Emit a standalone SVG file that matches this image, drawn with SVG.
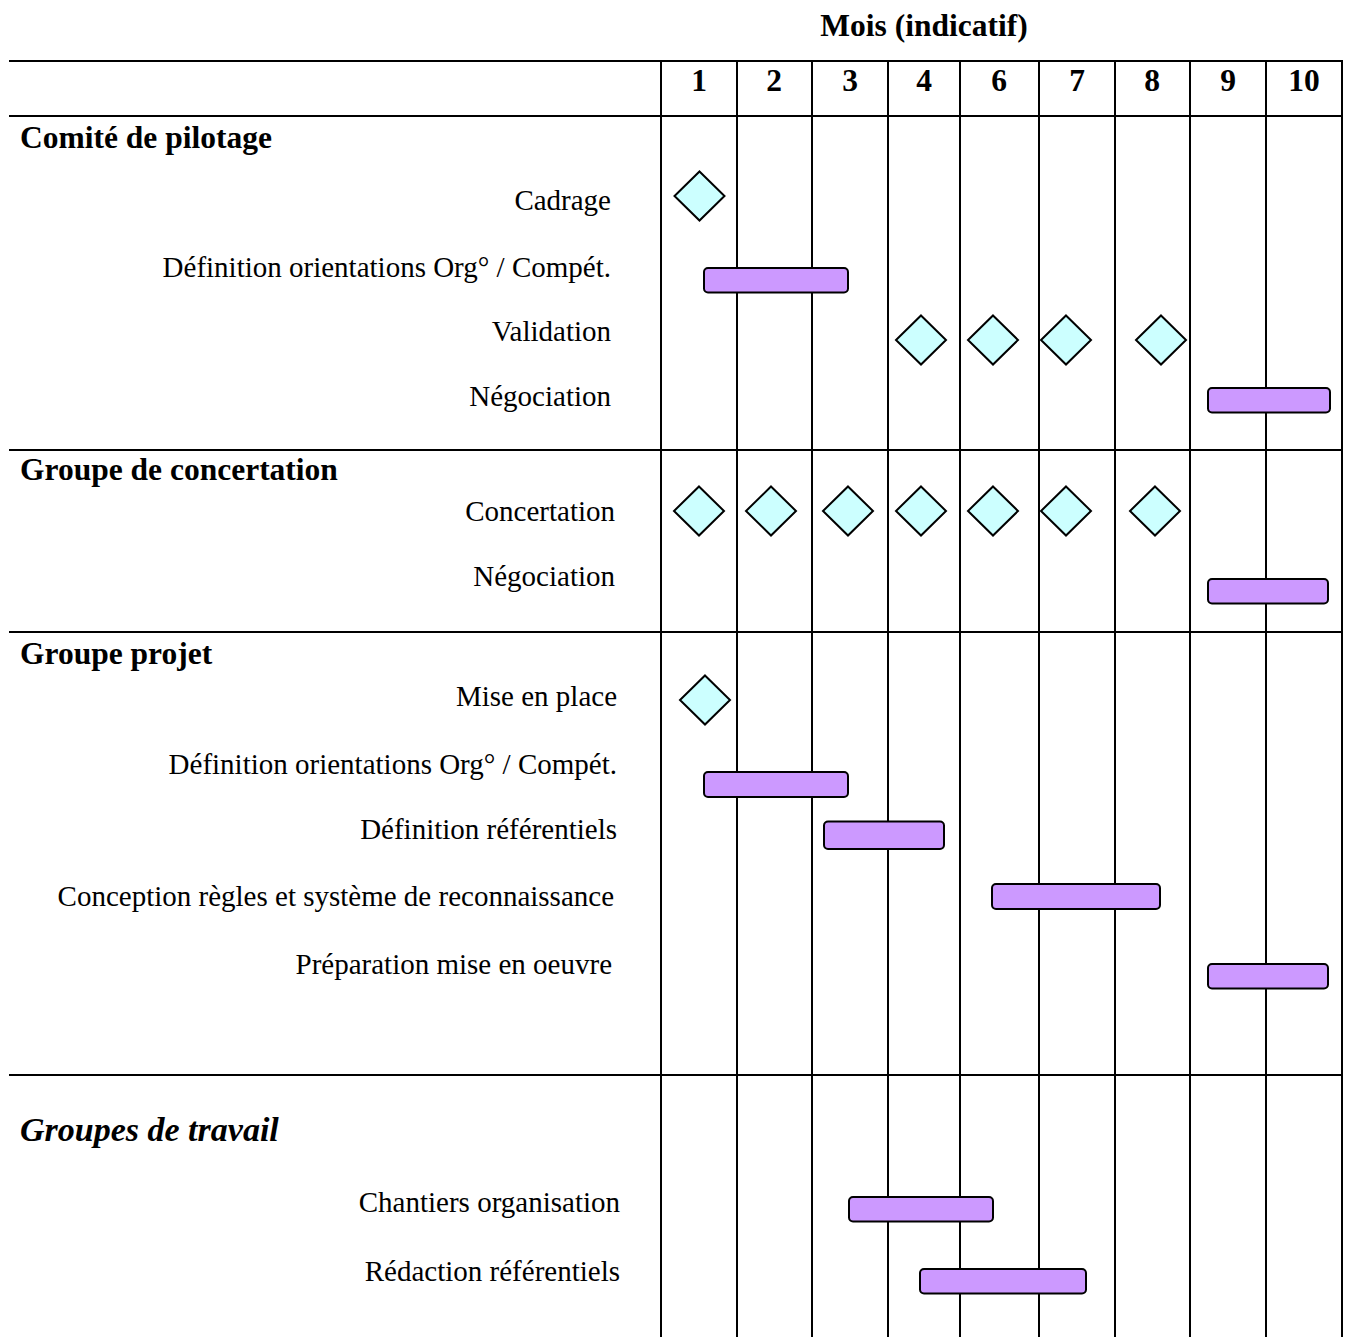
<svg xmlns="http://www.w3.org/2000/svg" width="1348" height="1337" viewBox="0 0 1348 1337">
<style>
.grid line{stroke:#000;stroke-width:2}
.t{font-family:"Liberation Serif","Times New Roman",serif;font-size:29px;fill:#000}
.r{text-anchor:end}
.h{font-family:"Liberation Serif","Times New Roman",serif;font-size:31.5px;font-weight:bold;fill:#000}
.c{text-anchor:middle}
.hi{font-family:"Liberation Serif","Times New Roman",serif;font-size:34px;font-weight:bold;font-style:italic;fill:#000}
.bar{fill:#CC99FF;stroke:#000;stroke-width:2}
.dia{fill:#CCFFFF;stroke:#000;stroke-width:2}
</style>
<defs>
<polygon id="d" class="dia" points="0,-24.5 25,0 0,24.5 -25,0"/>
</defs>
<rect width="1348" height="1337" fill="#fff"/>
<g id="grid" class="grid">
<line x1="9" y1="61" x2="1343" y2="61"/>
<line x1="9" y1="116" x2="1343" y2="116"/>
<line x1="9" y1="450" x2="1343" y2="450"/>
<line x1="9" y1="632" x2="1343" y2="632"/>
<line x1="9" y1="1075" x2="1343" y2="1075"/>
<line x1="661" y1="61" x2="661" y2="1337"/>
<line x1="737" y1="61" x2="737" y2="1337"/>
<line x1="812" y1="61" x2="812" y2="1337"/>
<line x1="888" y1="61" x2="888" y2="1337"/>
<line x1="960" y1="61" x2="960" y2="1337"/>
<line x1="1039" y1="61" x2="1039" y2="1337"/>
<line x1="1115" y1="61" x2="1115" y2="1337"/>
<line x1="1190" y1="61" x2="1190" y2="1337"/>
<line x1="1266" y1="61" x2="1266" y2="1337"/>
<line x1="1342" y1="61" x2="1342" y2="1337"/>
</g>
<g id="header">
<text class="h c" x="924" y="36">Mois (indicatif)</text>
<text class="h c" x="699" y="91">1</text>
<text class="h c" x="774" y="91">2</text>
<text class="h c" x="850" y="91">3</text>
<text class="h c" x="924" y="91">4</text>
<text class="h c" x="999" y="91">6</text>
<text class="h c" x="1077" y="91">7</text>
<text class="h c" x="1152" y="91">8</text>
<text class="h c" x="1228" y="91">9</text>
<text class="h c" x="1304" y="91">10</text>
</g>
<g id="sec-comite">
<text class="h" x="20" y="148">Comité de pilotage</text>
</g>
<g id="cadrage">
<text class="t r" x="611" y="210">Cadrage</text>
<use href="#d" x="699.5" y="196"/>
</g>
<g id="definition1">
<text class="t r" x="611" y="277">Définition orientations Org° / Compét.</text>
<rect class="bar" x="704" y="268" width="144" height="24.5" rx="4"/>
</g>
<g id="validation">
<text class="t r" x="611" y="341">Validation</text>
<use href="#d" x="921" y="340"/>
<use href="#d" x="993" y="340"/>
<use href="#d" x="1066" y="340"/>
<use href="#d" x="1161" y="340"/>
</g>
<g id="negociation1">
<text class="t r" x="611" y="406">Négociation</text>
<rect class="bar" x="1208" y="388" width="122" height="24.5" rx="4"/>
</g>
<g id="sec-concertation">
<text class="h" x="20" y="480">Groupe de concertation</text>
</g>
<g id="concertation">
<text class="t r" x="615" y="521">Concertation</text>
<use href="#d" x="699" y="511"/>
<use href="#d" x="771" y="511"/>
<use href="#d" x="848" y="511"/>
<use href="#d" x="921" y="511"/>
<use href="#d" x="993" y="511"/>
<use href="#d" x="1066" y="511"/>
<use href="#d" x="1155" y="511"/>
</g>
<g id="negociation2">
<text class="t r" x="615" y="586">Négociation</text>
<rect class="bar" x="1208" y="579" width="120" height="24.5" rx="4"/>
</g>
<g id="sec-projet">
<text class="h" x="20" y="664">Groupe projet</text>
</g>
<g id="mise-en-place">
<text class="t r" x="617" y="706">Mise en place</text>
<use href="#d" x="705" y="700"/>
</g>
<g id="definition2">
<text class="t r" x="617" y="774">Définition orientations Org° / Compét.</text>
<rect class="bar" x="704" y="772" width="144" height="25" rx="4"/>
</g>
<g id="def-referentiels">
<text class="t r" x="617" y="839">Définition référentiels</text>
<rect class="bar" x="824" y="821.5" width="120" height="27.5" rx="4"/>
</g>
<g id="conception">
<text class="t r" x="614" y="906">Conception règles et système de reconnaissance</text>
<rect class="bar" x="992" y="884" width="168" height="25" rx="4"/>
</g>
<g id="preparation">
<text class="t r" x="612" y="974">Préparation mise en oeuvre</text>
<rect class="bar" x="1208" y="964" width="120" height="24.5" rx="4"/>
</g>
<g id="sec-travail">
<text class="hi" x="20" y="1141">Groupes de travail</text>
</g>
<g id="chantiers">
<text class="t r" x="620" y="1212">Chantiers organisation</text>
<rect class="bar" x="849" y="1197" width="144" height="24.5" rx="4"/>
</g>
<g id="redaction">
<text class="t r" x="620" y="1281">Rédaction référentiels</text>
<rect class="bar" x="920" y="1269" width="166" height="24.5" rx="4"/>
</g>
</svg>
